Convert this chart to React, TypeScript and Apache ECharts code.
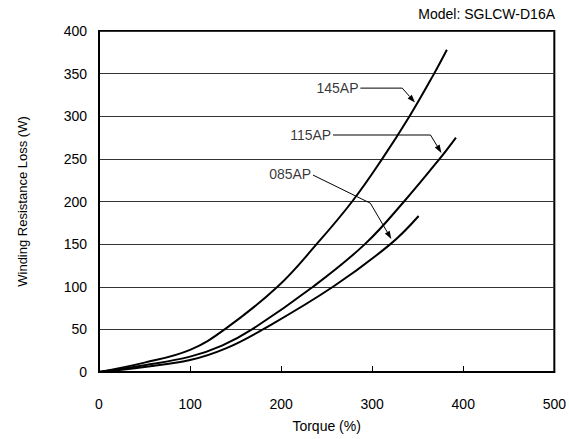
import React, { useEffect, useRef } from "react";
import * as echarts from "echarts";

const xTicks = [0, 100, 200, 300, 400, 500];
const yTicks = [0, 50, 100, 150, 200, 250, 300, 350, 400];

const series145AP: [number, number][] = [
  [0, 0], [50, 11], [100, 26], [138, 50], [196, 100], [239, 150], [278, 200],
  [311, 250], [341, 300], [368, 350], [382, 378],
];
const series115AP: [number, number][] = [
  [0, 0], [50, 8], [100, 18], [135, 31], [168, 50], [235, 100], [292, 150],
  [335, 200], [374, 250], [392, 275],
];
const series085AP: [number, number][] = [
  [0, 0], [50, 6], [100, 14], [140, 28], [180, 50], [257, 100], [320, 150], [351, 183],
];

const labelNames = ["145AP", "115AP", "085AP"];
const labelAnchors: [number, number][] = [[285, 333], [255, 278], [233, 232]];
const leaderPaths: [number, number][][] = [
  [[287, 333], [333, 333], [347, 316]],
  [[257, 278], [364, 278], [376, 257]],
  [[235, 231], [298, 198], [321, 156]],
];

const FONT = "'Liberation Sans', Arial, sans-serif";

export default function App() {
  const ref = useRef<HTMLDivElement>(null);
  useEffect(() => {
    if (!ref.current) return;
    const chart = echarts.init(ref.current, undefined, { renderer: "svg" });
    const curve = (name: string, data: [number, number][]) => ({
      name,
      type: "line",
      data,
      smooth: 0.4,
      showSymbol: false,
      symbol: "none",
      lineStyle: { color: "#000", width: 2 },
      z: 3,
    });
    chart.setOption({
      animation: false,
      backgroundColor: "#fff",
      textStyle: { fontFamily: FONT },
      grid: {
        left: 99,
        right: 14,
        top: 31,
        bottom: 67,
        show: true,
        borderColor: "#000",
        borderWidth: 2,
        backgroundColor: "transparent",
      },
      xAxis: {
        type: "value",
        min: xTicks[0],
        max: xTicks[xTicks.length - 1],
        interval: 100,
        name: "Torque (%)",
        nameLocation: "middle",
        nameGap: 47,
        nameTextStyle: { fontSize: 14, color: "#000", fontFamily: FONT },
        axisLine: { show: true, lineStyle: { color: "#000", width: 2 } },
        axisTick: { show: true, inside: true, length: 6, lineStyle: { color: "#000", width: 1 } },
        axisLabel: { fontSize: 14, color: "#000", margin: 25, fontFamily: FONT },
        splitLine: { show: false },
      },
      yAxis: {
        type: "value",
        min: yTicks[0],
        max: yTicks[yTicks.length - 1],
        interval: 50,
        name: "Winding Resistance Loss (W)",
        nameLocation: "middle",
        nameGap: 70,
        nameTextStyle: { fontSize: 13, color: "#000", fontFamily: FONT },
        axisLine: { show: true, lineStyle: { color: "#000", width: 2 } },
        axisTick: { show: false },
        axisLabel: { fontSize: 14, color: "#000", margin: 12, fontFamily: FONT },
        splitLine: { show: true, lineStyle: { color: "#333", width: 1 } },
      },
      series: [
        curve("145AP", series145AP),
        curve("115AP", series115AP),
        curve("085AP", series085AP),
        {
          type: "scatter",
          symbolSize: 0,
          data: labelAnchors.map((a, i) => ({ value: a, name: labelNames[i] })),
          label: {
            show: true,
            position: "left",
            distance: 0,
            formatter: (p: any) => p.name,
            fontSize: 14,
            color: "#000",
            fontFamily: FONT,
          },
          z: 5,
        },
      ],
    });

    const toPx = (p: [number, number]) => chart.convertToPixel({ gridIndex: 0 }, p) as number[];
    const graphics: any[] = [
      {
        type: "text",
        right: 14,
        top: 7,
        style: { text: "Model: SGLCW-D16A", font: `14px ${FONT}`, fill: "#000" },
      },
    ];
    leaderPaths.forEach((path) => {
      const pts = path.map(toPx);
      const tip = pts[pts.length - 1];
      const prev = pts[pts.length - 2];
      const dx = tip[0] - prev[0];
      const dy = tip[1] - prev[1];
      const len = Math.hypot(dx, dy) || 1;
      const ux = dx / len;
      const uy = dy / len;
      const L = 8;
      const W = 2.8;
      const bx = tip[0] - ux * L;
      const by = tip[1] - uy * L;
      graphics.push({
        type: "polyline",
        shape: { points: [...pts.slice(0, -1), [bx, by]] },
        style: { stroke: "#000", lineWidth: 1, fill: "none" },
        z: 10,
      });
      graphics.push({
        type: "polygon",
        shape: {
          points: [
            tip,
            [bx - uy * W, by + ux * W],
            [bx + uy * W, by - ux * W],
          ],
        },
        style: { fill: "#000", stroke: "none" },
        z: 10,
      });
    });
    chart.setOption({ graphic: graphics });
    return () => chart.dispose();
  }, []);
  return (
    <div
      ref={ref}
      style={{ width: 569, height: 439, position: "fixed", left: 0, top: 0 }}
    />
  );
}
